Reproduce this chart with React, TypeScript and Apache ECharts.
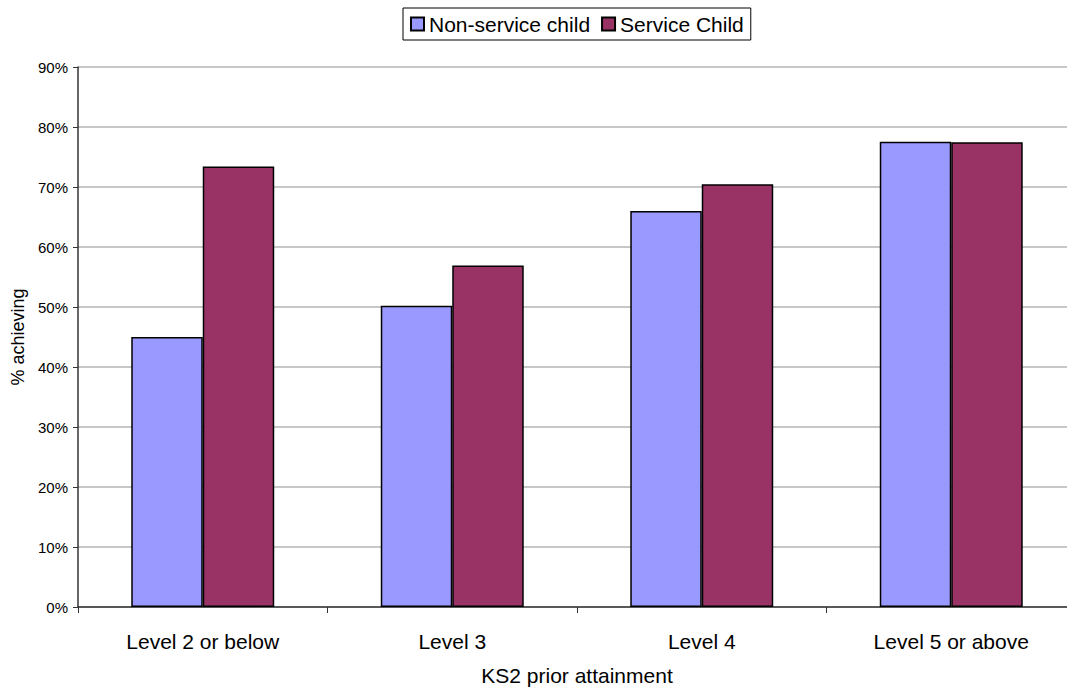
import React, { useEffect, useRef } from "react";
import * as echarts from "echarts";

const categories = ["Level 2 or below", "Level 3", "Level 4", "Level 5 or above"];
const nonService = [45.0, 50.2, 66.0, 77.55];
const service = [73.4, 56.9, 70.45, 77.45];
const seriesNames = ["Non-service child", "Service Child"];

export default function App() {
  const ref = useRef<HTMLDivElement>(null);
  useEffect(() => {
    const chart = echarts.init(ref.current!, null, { renderer: "svg" });
    const font = "'Liberation Sans', Arial, sans-serif";
    chart.setOption({
      animation: false,
      backgroundColor: "#ffffff",
      textStyle: { fontFamily: font },
      legend: {
        top: 8,
        left: 403,
        data: seriesNames,
        borderColor: "#000",
        borderWidth: 1,
        padding: [5, 7, 5, 7],
        itemGap: 11,
        itemWidth: 13,
        itemHeight: 13,
        icon: "rect",
        textStyle: { fontSize: 21, lineHeight: 22, color: "#000", fontFamily: font },
      },
      grid: { left: 78, width: 998, top: 67, height: 540, outerBoundsMode: "none", containLabel: false },
      xAxis: {
        type: "category",
        data: categories,
        name: "KS2 prior attainment",
        nameLocation: "middle",
        nameGap: 58,
        nameTextStyle: { fontSize: 21, color: "#000", fontFamily: font },
        axisLine: { lineStyle: { color: "#333", width: 1.5 } },
        axisTick: { show: true, length: 6, lineStyle: { color: "#333" } },
        axisLabel: { fontSize: 21, color: "#000", margin: 24, fontFamily: font },
      },
      yAxis: {
        type: "value",
        min: 0,
        max: 90,
        interval: 10,
        name: "% achieving",
        nameLocation: "middle",
        nameGap: 50,
        nameTextStyle: { fontSize: 18, color: "#000", fontFamily: font },
        axisLine: { show: true, lineStyle: { color: "#333", width: 1.5 } },
        axisTick: { show: true, length: 5, lineStyle: { color: "#333" } },
        axisLabel: { formatter: "{value}%", fontSize: 15, color: "#000", margin: 10, fontFamily: font },
        splitLine: { lineStyle: { color: "#b4b4b4", width: 1.5 } },
      },
      series: [
        {
          name: seriesNames[0],
          type: "bar",
          data: nonService,
          barGap: "0%",
          barCategoryGap: "42.7%",
          itemStyle: { color: "#9999FF", borderColor: "#000", borderWidth: 1.5 },
        },
        {
          name: seriesNames[1],
          type: "bar",
          data: service,
          itemStyle: { color: "#993366", borderColor: "#000", borderWidth: 1.5 },
        },
      ],
    });
    return () => chart.dispose();
  }, []);
  return (
    <div
      ref={ref}
      style={{ position: "fixed", left: 0, top: 0, width: 1067, height: 691 }}
    />
  );
}
